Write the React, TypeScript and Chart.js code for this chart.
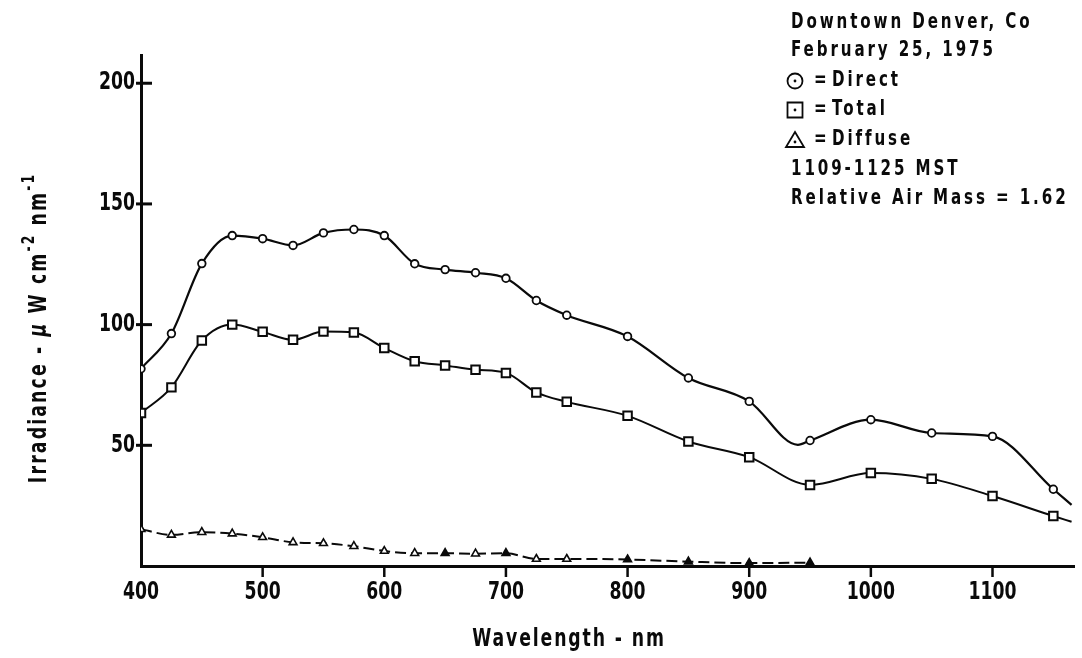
import React, { useEffect, useRef } from 'react';
import { Chart, registerables } from 'chart.js';

Chart.register(...registerables);

// ---- data ----
const directNm = [400, 425, 450, 475, 500, 525, 550, 575, 600, 625, 650, 675, 700, 725, 750, 800, 850, 900, 940, 950, 1000, 1050, 1100, 1150, 1165];
const directIrr = [81.7, 96.3, 125.3, 136.9, 135.6, 132.8, 138.0, 139.4, 136.9, 125.2, 122.8, 121.5, 119.2, 110.0, 103.9, 95.1, 77.9, 68.2, 50.2, 52.0, 60.6, 55.1, 53.7, 31.8, 25.3];
const directCurveOnly = [940, 1165];

const totalNm = [400, 425, 450, 475, 500, 525, 550, 575, 600, 625, 650, 675, 700, 725, 750, 800, 850, 900, 950, 1000, 1050, 1100, 1150, 1165];
const totalIrr = [63.4, 74.0, 93.4, 100.0, 97.0, 93.7, 97.1, 96.7, 90.3, 84.8, 83.1, 81.3, 80.0, 71.9, 68.0, 62.2, 51.6, 45.1, 33.6, 38.5, 36.1, 29.0, 20.7, 18.3];
const totalCurveOnly = [1165];

const diffuseNm = [400, 425, 450, 475, 500, 525, 550, 575, 600, 625, 650, 675, 700, 725, 750, 800, 850, 900, 950];
const diffuseIrr = [15.2, 12.9, 14.0, 13.4, 11.9, 9.8, 9.4, 8.2, 6.2, 5.3, 5.3, 5.1, 5.3, 2.9, 2.9, 2.7, 1.8, 1.2, 1.4];
const diffuseSolidMarks = [650, 700, 800, 850, 900, 950];

const xTicks = [400, 500, 600, 700, 800, 900, 1000, 1100];
const yTicks = [50, 100, 150, 200];

const seriesLabels = ['Direct', 'Total', 'Diffuse'];
const legendHeader = ['Downtown Denver, Co', 'February 25, 1975'];
const legendFooter = ['1109-1125 MST', 'Relative Air Mass = 1.62'];
const xTitle = 'Wavelength - nm';

const FONT = "'DejaVu Sans', sans-serif";
const INK = '#0a0a0a';
const SX = 0.72; // horizontal condensing of the lettering

function toPoints(xs: number[], ys: number[]) {
  return xs.map((x, i) => ({ x, y: ys[i] }));
}

function measure(ctx: CanvasRenderingContext2D, s: string, size: number, ls: number, italic = false) {
  ctx.save();
  ctx.font = `${italic ? 'italic ' : ''}bold ${size}px ${FONT}`;
  (ctx as any).letterSpacing = `${ls}px`;
  const w = ctx.measureText(s).width * SX;
  ctx.restore();
  return w;
}

function txt(
  ctx: CanvasRenderingContext2D,
  s: string,
  x: number,
  y: number,
  size: number,
  align: 'left' | 'center' | 'right' = 'left',
  ls = 0,
  baseline: CanvasTextBaseline = 'middle',
  italic = false,
) {
  const w = measure(ctx, s, size, ls, italic);
  const x0 = align === 'center' ? x - w / 2 : align === 'right' ? x - w : x;
  ctx.save();
  ctx.font = `${italic ? 'italic ' : ''}bold ${size}px ${FONT}`;
  (ctx as any).letterSpacing = `${ls}px`;
  ctx.translate(x0, y);
  ctx.scale(SX, 1);
  ctx.textAlign = 'left';
  ctx.textBaseline = baseline;
  ctx.fillStyle = INK;
  ctx.fillText(s, 0, 0);
  ctx.restore();
  return w;
}

function drawSymbol(ctx: CanvasRenderingContext2D, kind: string, cx: number, cy: number) {
  ctx.save();
  ctx.lineWidth = 1.8;
  ctx.strokeStyle = INK;
  ctx.fillStyle = INK;
  ctx.beginPath();
  if (kind === 'circle') {
    ctx.arc(cx, cy, 7.5, 0, Math.PI * 2);
  } else if (kind === 'square') {
    ctx.rect(cx - 7.5, cy - 7.5, 15, 15);
  } else {
    ctx.moveTo(cx, cy - 8);
    ctx.lineTo(cx + 9, cy + 7);
    ctx.lineTo(cx - 9, cy + 7);
    ctx.closePath();
  }
  ctx.stroke();
  ctx.beginPath();
  ctx.arc(cx, kind === 'triangle' ? cy + 2 : cy, 1.4, 0, Math.PI * 2);
  ctx.fill();
  ctx.restore();
}

const decorPlugin = {
  id: 'decor',
  afterDraw(chart: any) {
    const ctx: CanvasRenderingContext2D = chart.ctx;
    const xs = chart.scales.x;
    const ys = chart.scales.y;
    ctx.save();
    ctx.strokeStyle = INK;
    ctx.fillStyle = INK;

    // y ticks: marks crossing the axis + labels
    ctx.lineWidth = 3;
    for (const v of yTicks) {
      const py = ys.getPixelForValue(v);
      ctx.beginPath();
      ctx.moveTo(xs.left - 5, py);
      ctx.lineTo(xs.left + 11, py);
      ctx.stroke();
      txt(ctx, String(v), xs.left - 6, py, 24, 'right');
    }
    // x ticks: marks below axis + labels
    ctx.lineWidth = 2.5;
    for (const v of xTicks) {
      const px = xs.getPixelForValue(v);
      if (v !== xTicks[0]) {
        ctx.beginPath();
        ctx.moveTo(px, ys.bottom);
        ctx.lineTo(px, ys.bottom + 11);
        ctx.stroke();
      }
      txt(ctx, String(v), px, ys.bottom + 27, 24, 'center');
    }

    // x title
    txt(ctx, xTitle, 569, 640, 24, 'center', 2.6);

    // y title with superscripts (rotated)
    ctx.save();
    ctx.translate(46, 328);
    ctx.rotate(-Math.PI / 2);
    const parts = [
      { t: 'Irradiance - ', size: 24, dy: 0, it: false },
      { t: 'μ', size: 24, dy: 0, it: true },
      { t: ' W cm', size: 24, dy: 0, it: false },
      { t: '-2', size: 17, dy: -12, it: false },
      { t: ' nm', size: 24, dy: 0, it: false },
      { t: '-1', size: 17, dy: -12, it: false },
    ];
    const LS = 3;
    let total = 0;
    for (const p of parts) total += measure(ctx, p.t, p.size, LS, p.it);
    let x = -total / 2;
    for (const p of parts) {
      x += txt(ctx, p.t, x, p.dy, p.size, 'left', LS, 'alphabetic', p.it);
    }
    ctx.restore();

    // legend block
    const LLS = 4;
    const lineYs = [23, 51, 81, 110, 140, 170, 199];
    let li = 0;
    for (const t of legendHeader) txt(ctx, t, 791, lineYs[li++], 21, 'left', LLS);
    const kinds = ['circle', 'square', 'triangle'];
    seriesLabels.forEach((lab, i) => {
      const y = lineYs[li++];
      drawSymbol(ctx, kinds[i], 795, y);
      txt(ctx, '=', 814, y, 21, 'left', 0);
      txt(ctx, lab, 832, y, 21, 'left', LLS);
    });
    for (const t of legendFooter) txt(ctx, t, 791, lineYs[li++], 21, 'left', LLS);
    ctx.restore();
  },
};

export default function App() {
  const ref = useRef<HTMLCanvasElement | null>(null);

  useEffect(() => {
    if (!ref.current) return;
    const chart = new Chart(ref.current, {
      type: 'line',
      data: {
        datasets: [
          {
            label: seriesLabels[0],
            data: toPoints(directNm, directIrr),
            borderColor: INK,
            borderWidth: 2.2,
            cubicInterpolationMode: 'monotone',
            pointStyle: 'circle',
            pointRadius: (c: any) => (directCurveOnly.includes(directNm[c.dataIndex]) ? 0 : 3.8),
            pointBackgroundColor: '#fff',
            pointBorderColor: INK,
            pointBorderWidth: 1.8,
          },
          {
            label: seriesLabels[1],
            data: toPoints(totalNm, totalIrr),
            borderColor: INK,
            borderWidth: 2,
            cubicInterpolationMode: 'monotone',
            pointStyle: 'rect',
            pointRadius: (c: any) => (totalCurveOnly.includes(totalNm[c.dataIndex]) ? 0 : 6),
            pointBackgroundColor: '#fff',
            pointBorderColor: INK,
            pointBorderWidth: 2,
          },
          {
            label: seriesLabels[2],
            data: toPoints(diffuseNm, diffuseIrr),
            borderColor: INK,
            borderWidth: 2,
            borderDash: [11, 5],
            cubicInterpolationMode: 'monotone',
            pointStyle: 'triangle',
            pointRadius: 4.5,
            pointBackgroundColor: (c: any) => (diffuseSolidMarks.includes(diffuseNm[c.dataIndex]) ? INK : '#fff'),
            pointBorderColor: INK,
            pointBorderWidth: 1.6,
          },
        ],
      },
      options: {
        responsive: false,
        animation: false,
        layout: { padding: { top: 55, right: 2, left: 0, bottom: 0 } },
        plugins: {
          legend: { display: false },
          tooltip: { enabled: false },
        },
        scales: {
          x: {
            type: 'linear',
            min: 400,
            max: 1167,
            grid: { display: false, drawTicks: false },
            border: { display: true, width: 3, color: INK },
            afterBuildTicks: (s: any) => {
              s.ticks = xTicks.map((v) => ({ value: v }));
            },
            afterFit: (s: any) => {
              s.height = 92;
            },
            ticks: { display: false },
          },
          y: {
            type: 'linear',
            min: 0,
            max: 211.7,
            grid: { display: false, drawTicks: false },
            border: { display: true, width: 3, color: INK },
            afterBuildTicks: (s: any) => {
              s.ticks = yTicks.map((v) => ({ value: v }));
            },
            afterFit: (s: any) => {
              s.width = 141;
            },
            ticks: { display: false },
          },
        },
      },
      plugins: [decorPlugin],
    } as any);
    return () => chart.destroy();
  }, []);

  return (
    <div style={{ position: 'absolute', left: 0, top: 0, width: 1082, height: 658, background: '#fff' }}>
      <canvas ref={ref} width={1082} height={658} style={{ display: 'block' }} />
    </div>
  );
}
